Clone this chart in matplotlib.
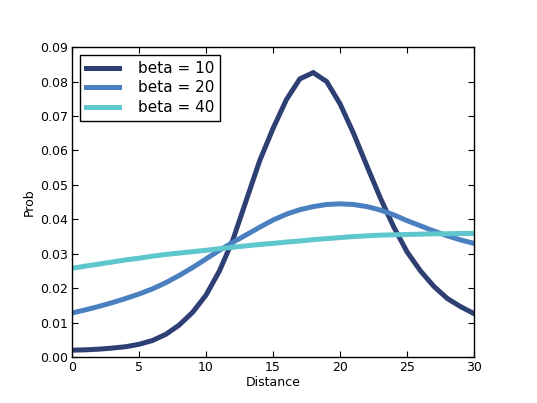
import matplotlib
matplotlib.use("Agg")
import matplotlib.pyplot as plt

distance = list(range(0, 31))
beta10 = [0.0020, 0.0021, 0.0023, 0.0026, 0.0030, 0.0037, 0.0048, 0.0066, 0.0093,
          0.0130, 0.0180, 0.0250, 0.0340, 0.0455, 0.0570, 0.0664, 0.0748, 0.0808,
          0.0826, 0.0800, 0.0735, 0.0650, 0.0555, 0.0462, 0.0378, 0.0305, 0.0250,
          0.0205, 0.0170, 0.0146, 0.0126]
beta20 = [0.0128, 0.0137, 0.0147, 0.0158, 0.0170, 0.0183, 0.0198, 0.0216, 0.0237,
          0.0260, 0.0285, 0.0310, 0.0333, 0.0355, 0.0377, 0.0398, 0.0415, 0.0428,
          0.0437, 0.0443, 0.0445, 0.0443, 0.0437, 0.0427, 0.0413, 0.0396, 0.0381,
          0.0366, 0.0352, 0.0340, 0.0330]
beta40 = [0.0258, 0.0264, 0.0270, 0.0276, 0.0282, 0.0287, 0.0293, 0.0298, 0.0302,
          0.0306, 0.0310, 0.0315, 0.0319, 0.0323, 0.0327, 0.0330, 0.0334, 0.0337,
          0.0341, 0.0344, 0.0347, 0.0350, 0.0352, 0.0354, 0.0355, 0.0356, 0.0357,
          0.0358, 0.0358, 0.0359, 0.0359]
labels = ["beta = 10", "beta = 20", "beta = 40"]
colors = ["#2e3f74", "#4a80c0", "#5ec6cd"]

fig = plt.figure(figsize=(5.37, 4.03), dpi=100)
ax = fig.add_axes([0.134, 0.114, 0.749, 0.769])
for ys, lab, c in zip([beta10, beta20, beta40], labels, colors):
    ax.plot(distance, ys, color=c, lw=3.6, label=lab, solid_joinstyle="miter")

ax.set_xlim(0, 30)
ax.set_ylim(0, 0.09)
ax.set_xticks(range(0, 31, 5))
ax.set_yticks([i / 100 for i in range(0, 10)])
ax.set_yticklabels([f"{i/100:.2f}" for i in range(0, 10)])
ax.tick_params(direction="in", top=True, right=True, labelsize=9, length=4, width=0.8, pad=3)
for s in ax.spines.values():
    s.set_linewidth(1.0)
ax.set_xlabel("Distance", fontsize=9, labelpad=1)
ax.set_ylabel("Prob", fontsize=9, labelpad=3)
leg = ax.legend(loc="upper left", fontsize=11, fancybox=False, framealpha=1,
                edgecolor="black", handlelength=2.2, borderpad=0.4, labelspacing=0.3,
                handletextpad=1.2, borderaxespad=0.5)
leg.get_frame().set_linewidth(1.0)
fig.savefig("out.png", dpi=100, facecolor="white")
